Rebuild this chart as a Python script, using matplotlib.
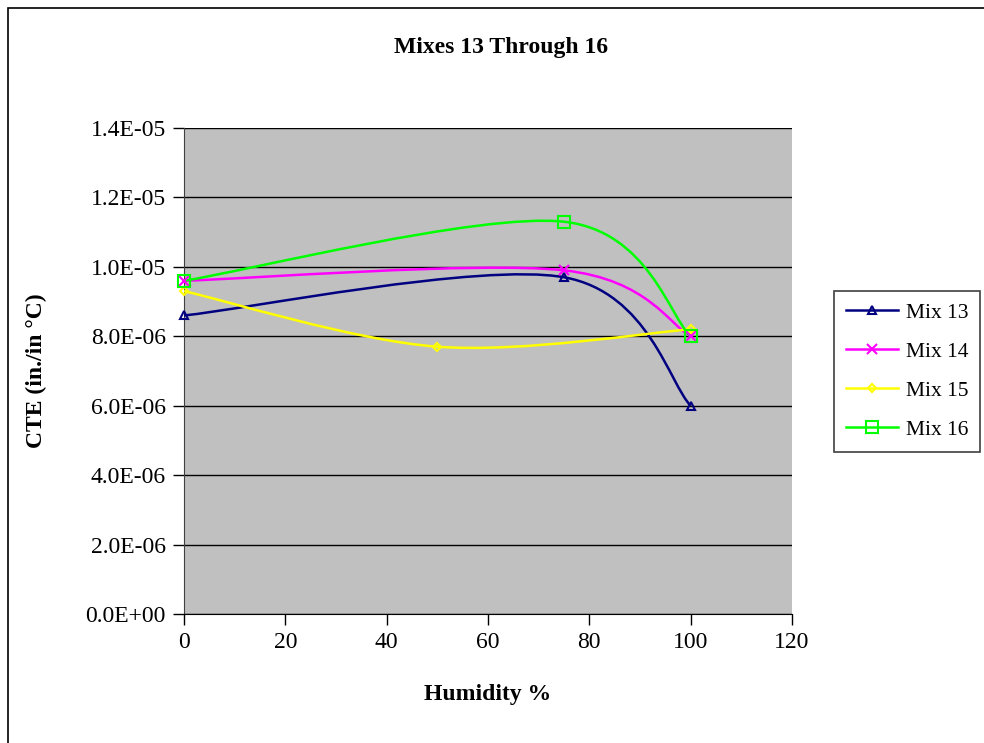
import numpy as np
import matplotlib.pyplot as plt
from matplotlib.path import Path
from matplotlib.patches import PathPatch, Rectangle
from matplotlib.ticker import FuncFormatter, MultipleLocator

plt.rcParams['font.family'] = ['Liberation Serif', 'DejaVu Serif']

# data
mix13_x = [0, 75, 100]
mix13_y = [8.6e-6, 9.7e-6, 6.0e-6]
mix14_x = [0, 75, 100]
mix14_y = [9.6e-6, 9.9e-6, 8.0e-6]
mix15_x = [0, 50, 100]
mix15_y = [9.3e-6, 7.7e-6, 8.2e-6]
mix16_x = [0, 75, 100]
mix16_y = [9.6e-6, 11.3e-6, 8.0e-6]

names = ['Mix 13', 'Mix 14', 'Mix 15', 'Mix 16']
colors = ['#000080', '#FF00FF', '#FFFF00', '#00FF00']
markers = ['^', 'x', 'D', 's']
msizes = [6, 7, 4, 9]

XMAX, YMAX = 120, 1.4e-5


def smooth_path(xs, ys, sx, sy):
    # excel style bezier smoothing, done in screen proportions
    p = np.column_stack([np.array(xs) / XMAX * sx, np.array(ys) / YMAX * sy])
    n = len(p)
    verts = [p[0]]
    codes = [Path.MOVETO]
    for i in range(n - 1):
        p0 = p[i - 1] if i > 0 else p[i]
        p3 = p[i + 2] if i + 2 < n else p[i + 1]
        c1 = p[i] + (p[i + 1] - p0) / 6
        c2 = p[i + 1] - (p3 - p[i]) / 6
        verts += [c1, c2, p[i + 1]]
        codes += [Path.CURVE4] * 3
    v = np.array(verts)
    v[:, 0] = v[:, 0] / sx * XMAX
    v[:, 1] = v[:, 1] / sy * YMAX
    return Path(v, codes)


fig = plt.figure(figsize=(9.84, 7.43), dpi=100)
fig.patches.append(Rectangle((8 / 984, -0.1), 1.2, 1.1 - 8 / 743, transform=fig.transFigure,
                             fill=False, edgecolor='black', linewidth=1.2))

ax = fig.add_axes([184 / 984, 1 - 614 / 743, (792 - 184) / 984, (614 - 128) / 743])
ax.set_facecolor('#C0C0C0')
ax.set_xlim(0, XMAX)
ax.set_ylim(0, YMAX)

sx, sy = 792 - 184, 614 - 128
series = [(mix13_x, mix13_y), (mix14_x, mix14_y), (mix15_x, mix15_y), (mix16_x, mix16_y)]
for (xs, ys), name, c, m, ms in zip(series, names, colors, markers, msizes):
    ax.add_patch(PathPatch(smooth_path(xs, ys, sx, sy), fill=False, edgecolor=c, linewidth=1.8, zorder=3))
    ax.plot(xs, ys, linestyle='none', marker=m, color=c, markersize=ms,
            markerfacecolor='none', markeredgewidth=1.5, zorder=4, clip_on=False)
    ax.plot([], [], color=c, marker=m, markersize=ms, markerfacecolor='none',
            markeredgewidth=1.5, linewidth=1.8, label=name)

ax.yaxis.set_major_locator(MultipleLocator(2e-6))
ax.xaxis.set_major_locator(MultipleLocator(20))
ax.yaxis.set_major_formatter(FuncFormatter(lambda v, pos: f'{v:.1E}'))
ax.grid(axis='y', color='black', linewidth=1)
ax.set_axisbelow(True)
for s in ['top', 'right']:
    ax.spines[s].set_visible(False)
ax.spines['left'].set_color('#404040')
ax.spines['bottom'].set_color('black')
ax.tick_params(direction='out', length=8, width=1, labelsize=17, pad=5)

ax.set_xlabel('Humidity %', fontsize=17, fontweight='bold', labelpad=22)
ax.set_ylabel('CTE (in./in °C)', fontsize=17, fontweight='bold', labelpad=28)
fig.text(501 / 984, 1 - 47 / 743, 'Mixes 13 Through 16', ha='center', va='center',
         fontsize=17, fontweight='bold')

leg = fig.legend(loc='upper left', bbox_to_anchor=(834 / 984, 1 - 291 / 743),
                 fontsize=15.5, fancybox=False, framealpha=1, edgecolor='#404040',
                 handlelength=2.4, labelspacing=0.88, borderpad=0.55, handletextpad=0.4,
                 borderaxespad=0)
leg.get_frame().set_linewidth(1.2)

fig.savefig('out.png', dpi=100)
